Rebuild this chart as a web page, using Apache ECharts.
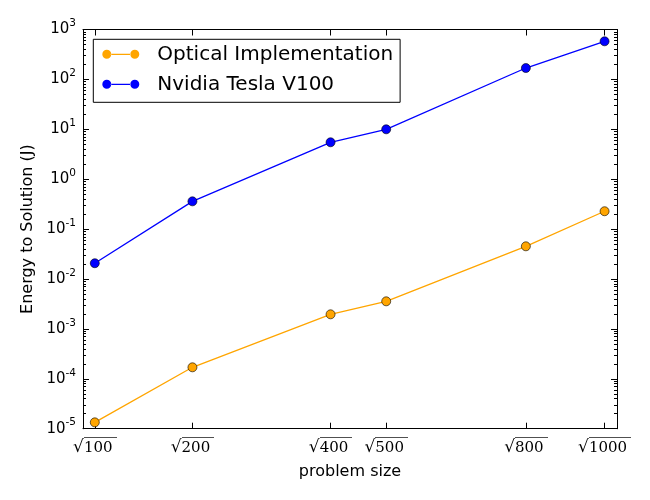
<!DOCTYPE html>
<html>
<head>
<meta charset="utf-8">
<script src="https://cdn.jsdelivr.net/npm/echarts@6/dist/echarts.min.js"></script>
<style>
  html, body { margin: 0; padding: 0; background: #fff; }
  #chart { width: 650px; height: 500px; }
</style>
</head>
<body>
<div id="chart"></div>
<script>
// problem sizes, plotted at sqrt(n)
const problemSizes = [100, 200, 400, 500, 800, 1000]
const opticalEnergy = [1.34e-5, 1.70e-4, 1.96e-3, 3.57e-3, 0.0452, 0.228]
const teslaEnergy = [0.0207, 0.36, 5.49, 10.0, 169, 580]
const yTickExps = [-5, -4, -3, -2, -1, 0, 1, 2, 3]
const seriesNames = ['Optical Implementation', 'Nvidia Tesla V100']

const xPos = problemSizes.map(n => Math.sqrt(n))
const majorY = yTickExps.map(e => Math.pow(10, e))
const minorY = []
yTickExps.slice(0, -1).forEach(e => {
    for (let k = 2; k <= 9; k++) minorY.push(k * Math.pow(10, e))
})

const font = 'DejaVu Sans'

// little image used as the bar on top of the square root
const barCanvas = document.createElement('canvas')
barCanvas.width = 10
barCanvas.height = 20
const bctx = barCanvas.getContext('2d')
bctx.fillStyle = '#000'
bctx.fillRect(0, 0, 10, 1)

function xLabel(v) {
    const i = xPos.findIndex(p => Math.abs(p - v) < 1e-6)
    if (i < 0) return ''
    return '{r|\u221A}{n|' + problemSizes[i] + '}'
}
function yLabel(v) {
    const e = Math.round(Math.log10(v))
    return '{b|10}{s|' + e + '}'
}

// legend icon: two markers joined by a line
const legendIcon = 'path://M0,4.5a4.5,4.5 0 1,0 9,0a4.5,4.5 0 1,0 -9,0Z' +
    'M28,4.5a4.5,4.5 0 1,0 9,0a4.5,4.5 0 1,0 -9,0Z' +
    'M8.5,3.9L28.5,3.9L28.5,5.1L8.5,5.1Z'

const chart = echarts.init(document.getElementById('chart'), null, { renderer: 'canvas' })

const yCommon = {
    type: 'log', logBase: 10, min: 1e-5, max: 1e3,
    splitLine: { show: false },
    axisLine: { show: true, lineStyle: { color: '#000', width: 1 } }
}
const xCommon = {
    type: 'value', min: 9.5, max: 32.15,
    splitLine: { show: false },
    axisLine: { show: true, lineStyle: { color: '#000', width: 1 } }
}

chart.setOption({
    animation: false,
    backgroundColor: '#fff',
    textStyle: { fontFamily: font, color: '#000' },
    grid: { left: 83, right: 33, top: 29.5, bottom: 71.3, containLabel: false },
    legend: {
        left: 93.3, top: 39.3,
        orient: 'vertical',
        icon: legendIcon,
        itemWidth: 37, itemHeight: 9,
        itemGap: 6,
        padding: [3, 7, 6, 9],
        borderColor: '#000', borderWidth: 1,
        backgroundColor: '#fff',
        itemStyle: { borderWidth: 0 },
        textStyle: { fontFamily: font, fontSize: 20, lineHeight: 24, color: '#000', padding: [0, 0, 0, 13] },
        data: seriesNames
    },
    xAxis: [
        Object.assign({}, xCommon, {
            position: 'bottom',
            name: 'problem size', nameLocation: 'middle', nameGap: 35,
            nameTextStyle: { fontFamily: font, fontSize: 16, color: '#000' },
            axisTick: { show: true, inside: true, length: 6, customValues: xPos, lineStyle: { color: '#000' } },
            axisLabel: {
                customValues: xPos, margin: 8, color: '#000',
                formatter: xLabel,
                rich: {
                    r: { fontFamily: 'DejaVu Serif', fontSize: 17, lineHeight: 19, color: '#000', verticalAlign: 'bottom' },
                    n: {
                        fontFamily: 'DejaVu Serif', fontSize: 15, lineHeight: 15, color: '#000',
                        verticalAlign: 'bottom', padding: [4, 4, 0, 0],
                        backgroundColor: { image: barCanvas }
                    }
                }
            }
        }),
        Object.assign({}, xCommon, {
            position: 'top',
            axisTick: { show: true, inside: true, length: 6, customValues: xPos, lineStyle: { color: '#000' } },
            axisLabel: { show: false }
        })
    ],
    yAxis: [
        Object.assign({}, yCommon, {
            position: 'left',
            name: 'Energy to Solution (J)', nameLocation: 'middle', nameGap: 47,
            nameTextStyle: { fontFamily: font, fontSize: 16, color: '#000' },
            axisTick: { show: true, inside: true, length: 6, customValues: majorY, lineStyle: { color: '#000' } },
            axisLabel: {
                customValues: majorY, margin: 7, color: '#000',
                formatter: yLabel,
                rich: {
                    b: { fontFamily: font, fontSize: 15, lineHeight: 15, color: '#000', verticalAlign: 'bottom' },
                    s: { fontFamily: font, fontSize: 10.5, lineHeight: 10, color: '#000', verticalAlign: 'bottom', padding: [0, 0, 8, 0] }
                }
            }
        }),
        Object.assign({}, yCommon, {
            position: 'left',
            axisTick: { show: true, inside: true, length: 3, customValues: minorY, lineStyle: { color: '#000' } },
            axisLabel: { show: false }
        }),
        Object.assign({}, yCommon, {
            position: 'right',
            axisTick: { show: true, inside: true, length: 6, customValues: majorY, lineStyle: { color: '#000' } },
            axisLabel: { show: false }
        }),
        Object.assign({}, yCommon, {
            position: 'right',
            axisTick: { show: true, inside: true, length: 3, customValues: minorY, lineStyle: { color: '#000' } },
            axisLabel: { show: false }
        })
    ],
    series: [
        {
            name: seriesNames[0], type: 'line',
            data: xPos.map((x, i) => [x, opticalEnergy[i]]),
            symbol: 'circle', symbolSize: 9,
            lineStyle: { color: '#FFA500', width: 1.3 },
            itemStyle: { color: '#FFA500', borderColor: '#000', borderWidth: 0.6 },
            z: 3
        },
        {
            name: seriesNames[1], type: 'line',
            data: xPos.map((x, i) => [x, teslaEnergy[i]]),
            symbol: 'circle', symbolSize: 9,
            lineStyle: { color: '#0000FF', width: 1.3 },
            itemStyle: { color: '#0000FF', borderColor: '#000', borderWidth: 0.6 },
            z: 3
        }
    ]
})
</script>
</body>
</html>
